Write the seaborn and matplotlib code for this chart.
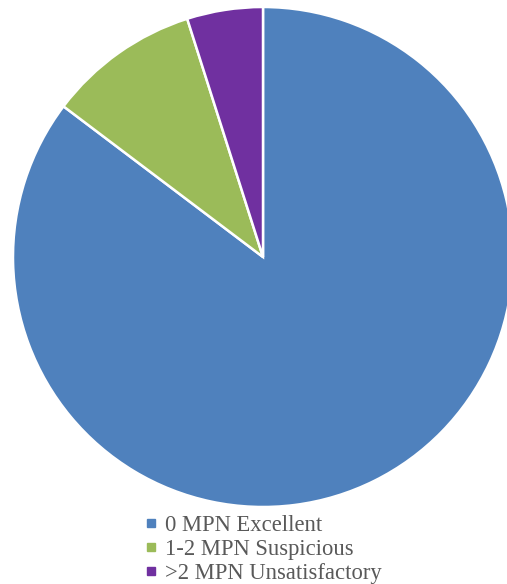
import matplotlib
matplotlib.use("Agg")
import matplotlib.pyplot as plt
import seaborn as sns
from matplotlib.lines import Line2D

sns.set_theme(style="white")
plt.rcParams['font.family'] = ['Liberation Serif', 'DejaVu Serif']

# Veri
categories = ['0 MPN Excellent', '1-2 MPN Suspicious', '>2 MPN Unsatisfactory']
values = [87, 10, 5]
colors = ['#4F81BD', '#9BBB59', '#7030A0']

fig = plt.figure(figsize=(5.07, 5.84), dpi=100)
ax = fig.add_axes([0, 0, 1, 1])
ax.set_xlim(0, 507)
ax.set_ylim(0, 584)
ax.set_aspect('equal')
ax.axis('off')

ax.pie(values, colors=colors, startangle=90, counterclock=False,
       center=(263, 327), radius=250,
       wedgeprops=dict(edgecolor='white', linewidth=1.8))
ax.set_xlim(0, 507)
ax.set_ylim(0, 584)

handles = [Line2D([], [], marker='s', linestyle='none', markersize=6,
                  markerfacecolor=c, markeredgecolor=c) for c in colors]
leg = fig.legend(handles, categories, loc='upper left',
                 bbox_to_anchor=(134 / 507, 1 - 504 / 584),
                 frameon=False, fontsize=16.3, handlelength=0.5,
                 handletextpad=0.35, labelspacing=0.12, borderpad=0)
for t in leg.get_texts():
    t.set_color('#595959')

plt.savefig('out.png', dpi=100)
